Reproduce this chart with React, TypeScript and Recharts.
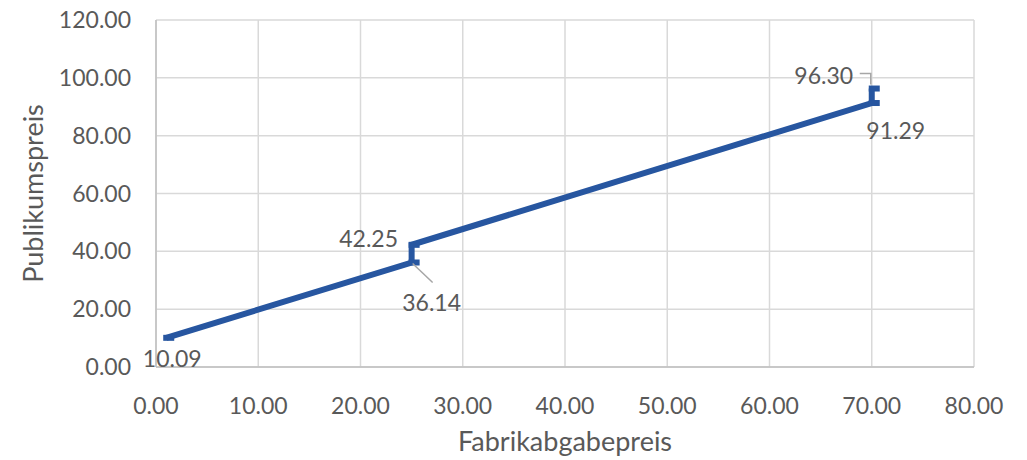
import React from 'react'
import { LineChart, Line, XAxis, YAxis, CartesianGrid, LabelList, Label } from 'recharts'

// Fabrikabgabepreis -> Publikumspreis, with the two price steps
const fabrikPreis = [1, 25, 25, 70, 70]
const publikumsPreis = [10.09, 36.14, 42.25, 91.29, 96.3]
const xTicks = [0, 10, 20, 30, 40, 50, 60, 70, 80]
const yTicks = [0, 20, 40, 60, 80, 100, 120]

const data = fabrikPreis.map((x, i) => ({ x, y: publikumsPreis[i] }))

// label offsets from each point (dx, dy) and optional leader line
const labelPlacement = [
  { dx: 6, dy: 20 },
  { dx: 20, dy: 40, leader: 'diag' },
  { dx: -43, dy: -7 },
  { dx: 24, dy: 27 },
  { dx: -48, dy: -14, leader: 'elbow' },
]

const font = 'Lato, "Open Sans", sans-serif'
const textColor = '#595959'
const lineColor = '#2756A0'
const fmt = (v: number) => v.toFixed(2)

function DashDot(props: any) {
  const { cx, cy, index } = props
  if (cx == null || cy == null) return <g key={index} />
  return <rect key={index} x={cx - 3} y={cy - 3} width={11} height={6} fill={lineColor} />
}

function PointLabel(props: any) {
  const { x, y, value, index } = props
  const p = labelPlacement[index]
  if (!p) return null
  return (
    <g>
      {p.leader === 'diag' && (
        <line x1={x + 1} y1={y + 1} x2={x + 21} y2={y + 20} stroke="#A6A6A6" strokeWidth={1.5} />
      )}
      {p.leader === 'elbow' && (
        <polyline
          points={`${x - 12},${y - 15} ${x - 1},${y - 15} ${x - 1},${y - 4}`}
          fill="none"
          stroke="#A6A6A6"
          strokeWidth={1.5}
        />
      )}
      <text
        x={x + p.dx}
        y={y + p.dy}
        textAnchor="middle"
        dominantBaseline="central"
        fill={textColor}
        fontSize={23}
        fontFamily={font}
      >
        {fmt(value)}
      </text>
    </g>
  )
}

export default function App() {
  return (
    <div style={{ width: 1027, height: 460, background: '#fff' }}>
      <style>{'body{margin:0}'}</style>
      <LineChart width={1027} height={460} data={data} margin={{ top: 20, right: 53, bottom: 0, left: 0 }}>
        <CartesianGrid stroke="#D9D9D9" strokeWidth={1.5} />
        <XAxis
          type="number"
          dataKey="x"
          domain={[0, 80]}
          ticks={xTicks}
          tickFormatter={fmt}
          height={93}
          tickSize={0}
          tickMargin={31}
          axisLine={{ stroke: '#BFBFBF', strokeWidth: 1.5 }}
          tick={{ fill: textColor, fontSize: 23, fontFamily: font }}
        >
          <Label
            content={({ viewBox }: any) => (
              <text
                x={viewBox.x + viewBox.width / 2}
                y={viewBox.y + 73}
                textAnchor="middle"
                dominantBaseline="central"
                fill={textColor}
                fontSize={27}
                fontFamily={font}
              >
                Fabrikabgabepreis
              </text>
            )}
          />
        </XAxis>
        <YAxis
          type="number"
          domain={[0, 120]}
          ticks={yTicks}
          tickFormatter={fmt}
          width={156}
          tickSize={0}
          tickMargin={25}
          axisLine={{ stroke: '#BFBFBF', strokeWidth: 1.5 }}
          tick={{ fill: textColor, fontSize: 23, fontFamily: font }}
        >
          <Label
            content={({ viewBox }: any) => {
              const cx = viewBox.x + 32
              const cy = viewBox.y + viewBox.height / 2
              return (
                <text
                  x={cx}
                  y={cy}
                  transform={`rotate(-90 ${cx} ${cy})`}
                  textAnchor="middle"
                  dominantBaseline="central"
                  fill={textColor}
                  fontSize={27}
                  fontFamily={font}
                >
                  Publikumspreis
                </text>
              )
            }}
          />
        </YAxis>
        <Line
          type="linear"
          dataKey="y"
          stroke={lineColor}
          strokeWidth={6}
          dot={(p: any) => <DashDot {...p} />}
          activeDot={false}
          isAnimationActive={false}
        >
          <LabelList dataKey="y" content={(p: any) => <PointLabel {...p} />} />
        </Line>
      </LineChart>
    </div>
  )
}
